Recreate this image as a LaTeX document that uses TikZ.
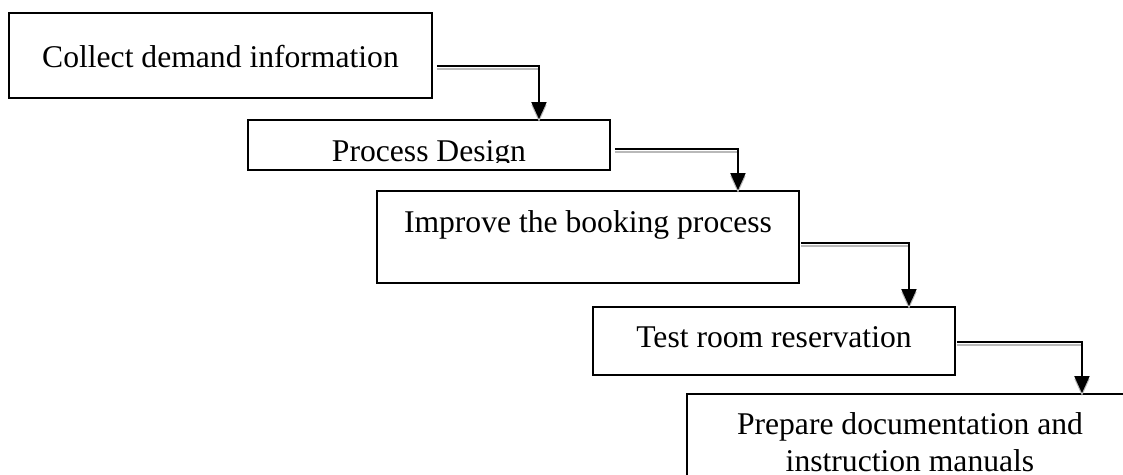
\documentclass[tikz,border=0pt]{standalone}
\usepackage{fontspec}
\setmainfont{Liberation Serif}
\usetikzlibrary{arrows.meta}

\begin{document}
\begin{tikzpicture}[x=0.02cm, y=-0.02cm]
    \tikzstyle{stage} = [draw, line width=1.1pt, inner sep=0pt]
    \tikzstyle{stagetext} = [inner sep=0pt, anchor=base, font=\fontsize{18}{20.5}\selectfont, align=center]
    \tikzstyle{flow} = [line width=1.1pt, -{Triangle[width=0.3cm, length=0.34cm]},
        preaction={draw=gray!55, line width=0.9pt, transform canvas={yshift=-0.055cm}}]
    \useasboundingbox (0, 0) rectangle (1123, 474);
    \clip (0, 0) rectangle (1123, 474);
    % the five steps
    \node[stage, minimum width=8.46cm, minimum height=1.7cm] (collect) at (220.5, 55.5) {};
    \node[stage, minimum width=7.24cm, minimum height=1cm] (design) at (429, 145) {};
    \node[stage, minimum width=8.44cm, minimum height=1.84cm] (improve) at (588, 237) {};
    \node[stage, minimum width=7.24cm, minimum height=1.36cm] (test) at (774, 341) {};
    \node[stage, minimum width=8.92cm, minimum height=2cm] (prepare) at (910, 444) {};
    \node[stagetext] (collecttext) at (220.5, 67) {Collect demand information};
    \begin{scope}
        \clip (248, 120) rectangle (610, 162);
        \node[stagetext] (designtext) at (429, 161) {Process Design};
    \end{scope}
    \node[stagetext] (improvetext) at (588, 232) {Improve the booking process};
    \node[stagetext] (testtext) at (774, 347) {Test room reservation};
    \node[stagetext] (preparetext) at (910, 471) {Prepare documentation and\\instruction manuals};
    % connectors
    \draw[flow] ([shift={(4, 10.5)}]collect.east) -| ([xshift=2.2cm]design.north);
    \draw[flow] ([shift={(4, 4)}]design.east) -| ([xshift=3cm]improve.north);
    \draw[flow] ([shift={(1, 6)}]improve.east) -| ([xshift=2.7cm]test.north);
    \draw[flow] ([shift={(1, 1)}]test.east) -| ([xshift=3.44cm]prepare.north);
\end{tikzpicture}
\end{document}
